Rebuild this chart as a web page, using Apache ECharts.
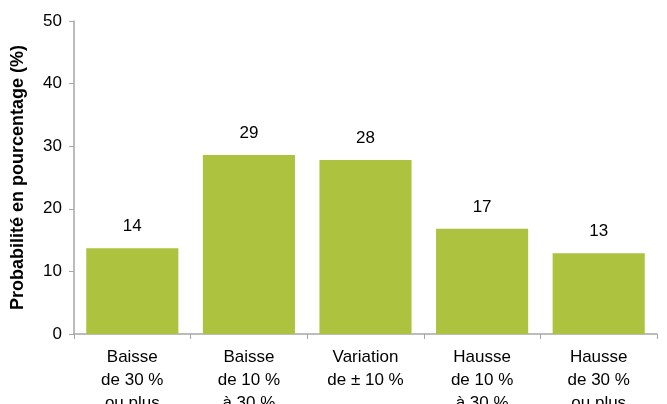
<!DOCTYPE html>
<html><head><meta charset="utf-8">
<script src="https://cdn.jsdelivr.net/npm/echarts@6/dist/echarts.min.js"></script>
<style>html,body{margin:0;padding:0;background:#fff}#c{width:667px;height:404px}</style>
</head><body><div id="c"></div>
<script>
var categories = ["Baisse\nde 30 %\nou plus", "Baisse\nde 10 %\nà 30 %", "Variation\nde ± 10 %", "Hausse\nde 10 %\nà 30 %", "Hausse\nde 30 %\nou plus"];
var values = [13.7, 28.6, 27.8, 16.8, 12.9];
var yTitle = "Probabilité en pourcentage (%)";
var chart = echarts.init(document.getElementById('c'), null, {renderer: 'canvas'});
chart.setOption({
  animation: false,
  grid: {left: 74, right: 10, top: 21, bottom: 70, containLabel: false, outerBoundsMode: 'none'},
  xAxis: {
    type: 'category', data: categories,
    axisLine: {lineStyle: {color: '#a6a6a6', width: 1.5}},
    axisTick: {show: true, length: 5, lineStyle: {color: '#a6a6a6'}},
    axisLabel: {color: '#000', fontFamily: 'Liberation Sans, Arial', fontSize: 17, lineHeight: 23, margin: 12, interval: 0}
  },
  yAxis: {
    type: 'value', min: 0, max: 50, interval: 10,
    name: yTitle, nameLocation: 'middle', nameGap: 47,
    nameTextStyle: {color: '#000', fontFamily: 'Liberation Sans, Arial', fontSize: 18, fontWeight: 'bold'},
    axisLine: {show: true, lineStyle: {color: '#a6a6a6', width: 1.5}},
    axisTick: {show: true, length: 5, lineStyle: {color: '#a6a6a6'}},
    splitLine: {show: false},
    axisLabel: {color: '#000', fontFamily: 'Liberation Sans, Arial', fontSize: 17, margin: 12}
  },
  series: [{
    type: 'bar', data: values, barWidth: '79%',
    itemStyle: {color: '#adc23e'},
    label: {show: true, position: 'top', distance: 13, color: '#000', fontFamily: 'Liberation Sans, Arial', fontSize: 17,
      formatter: function (p) { return Math.round(p.value); }}
  }]
});
</script></body></html>
